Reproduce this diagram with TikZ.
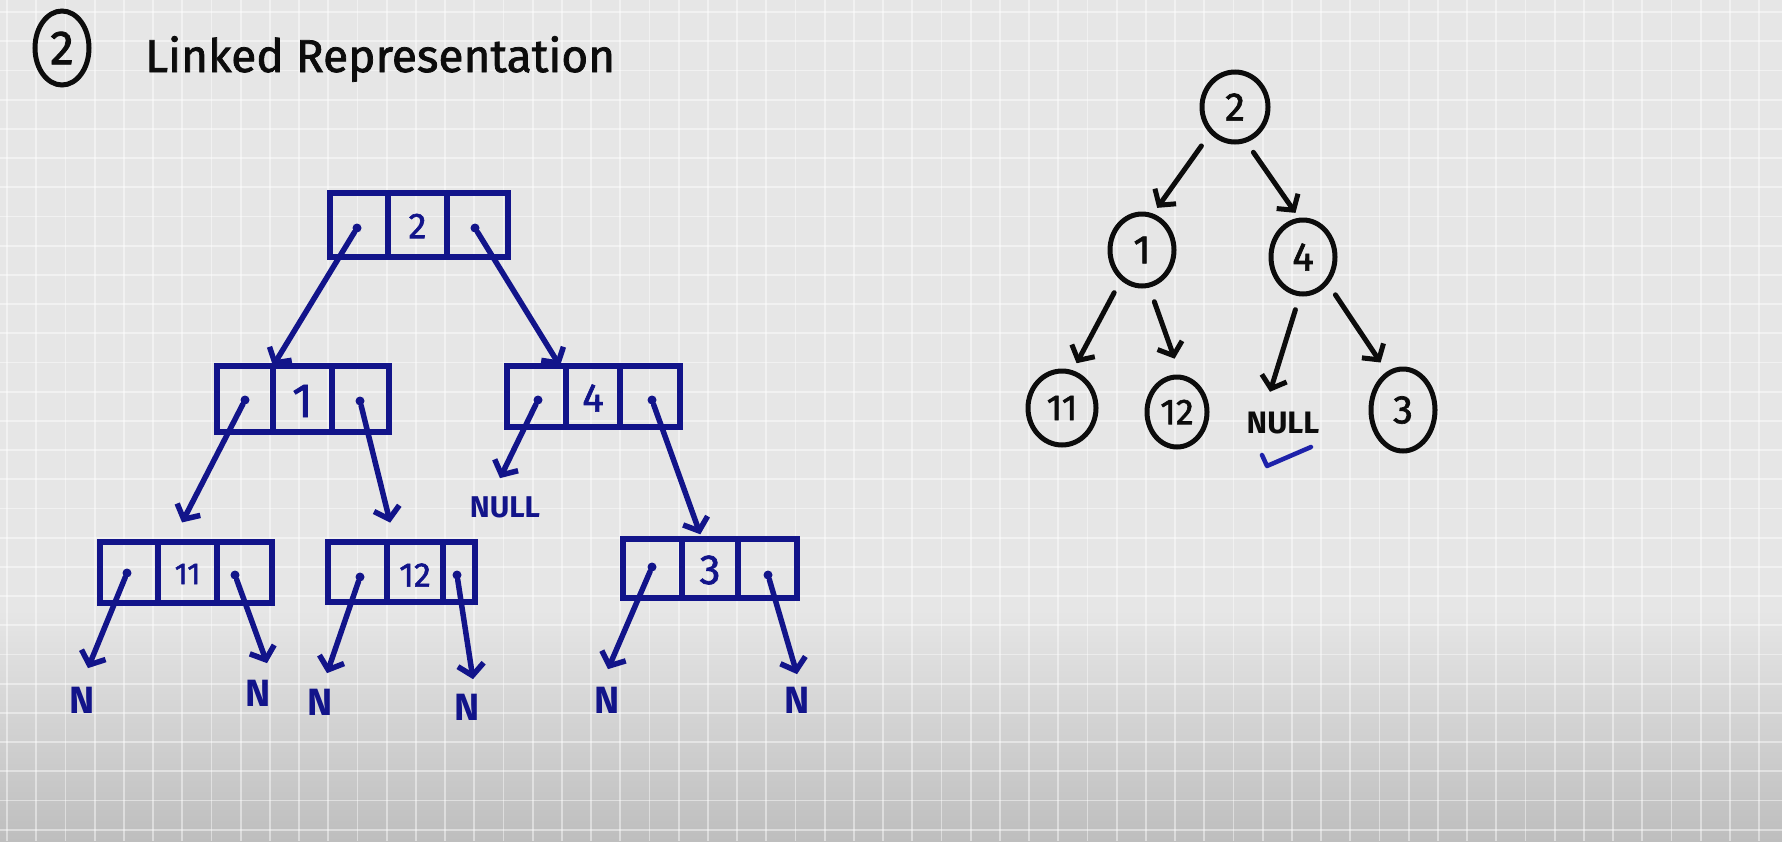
\documentclass[tikz,border=0pt]{standalone}
\usepackage{fontspec}
\setmainfont{Fira Sans}
\newfontfamily\hand{Fira Sans}[FakeBold=1.6]
\usetikzlibrary{arrows.meta,shapes.geometric,calc}
\definecolor{bgc}{RGB}{230,230,230}
\definecolor{bgbot}{RGB}{190,190,190}
\definecolor{bink}{RGB}{18,20,138}
\definecolor{kink}{RGB}{12,12,12}
\definecolor{chk}{RGB}{30,34,170}
\tikzset{
 llbox/.style={draw=bink, line width=5.5pt, rectangle, inner sep=0pt, outer sep=0pt},
 divl/.style={draw=bink, line width=5.5pt, line cap=round},
 bdot/.style={circle, fill=bink, inner sep=0pt, minimum size=9pt},
 barr/.style={draw=bink, line width=5.5pt, line cap=round, line join=round, -{Straight Barb[length=11pt,width=26pt]}},
 bval/.style={text=bink, inner sep=0pt},
 nlbl/.style={text=bink, inner sep=0pt, font=\fontsize{38}{46}\selectfont\bfseries},
 cnode/.style={ellipse, draw=kink, line width=5pt, inner sep=0pt, text=kink, font=\fontsize{40}{46}\selectfont\hand},
 karr/.style={draw=kink, line width=5pt, line cap=round, line join=round, -{Straight Barb[length=11pt,width=26pt]}},
 gridl/.style={draw=white, line width=1.8pt, opacity=0.45},
}
\begin{document}
\begin{tikzpicture}[x=1pt,y=-1pt]
\useasboundingbox (0,0) rectangle (1782,841);
\fill[bgc] (0,0) rectangle (1782,841);
\shade[top color=bgc, bottom color=bgbot] (0,610) rectangle (1782,841);
\foreach \i in {0,...,60} \draw[gridl] ({7+29.2*\i},0) -- ({7+29.2*\i},841);
\foreach \j in {0,...,28} \draw[gridl] (0,{12+29.2*\j}) -- (1782,{12+29.2*\j});

% title
\node[cnode, minimum width=54pt, minimum height=74pt, font=\fontsize{48}{52}\selectfont\hand] (t2) at (62,48) {2};
\node[anchor=base west, text=kink, inner sep=0pt, font=\fontsize{46}{54}\selectfont\hand] (title) at (145,72) {Linked Representation};

% ---------- linked representation (left) ----------
% root 2
\node[llbox, minimum width=178pt, minimum height=64pt] (R) at (419,225) {};
\draw[divl] ($(R.north west)+(58,0)$) -- ($(R.south west)+(58,0)$);
\draw[divl] ($(R.north west)+(117,0)$) -- ($(R.south west)+(117,0)$);
\node[bval, font=\fontsize{36}{40}\selectfont\hand] (Rv) at (417.5,226) {2};
\node[bdot] (Rl) at (357,228) {};
\node[bdot] (Rr) at (475,228) {};

% node 1
\node[llbox, minimum width=172pt, minimum height=66pt] (N1) at (303,399) {};
\draw[divl] ($(N1.north west)+(56,0)$) -- ($(N1.south west)+(56,0)$);
\draw[divl] ($(N1.north west)+(115,0)$) -- ($(N1.south west)+(115,0)$);
\node[bval, font=\fontsize{48}{52}\selectfont\hand] (N1v) at (302.5,401) {1};
\node[bdot] (N1l) at (245,400) {};
\node[bdot] (N1r) at (360,401) {};

% node 4
\node[llbox, minimum width=173pt, minimum height=61pt] (N4) at (593.5,396.5) {};
\draw[divl] ($(N4.north west)+(59,0)$) -- ($(N4.south west)+(59,0)$);
\draw[divl] ($(N4.north west)+(113,0)$) -- ($(N4.south west)+(113,0)$);
\node[bval, font=\fontsize{40}{44}\selectfont\hand] (N4v) at (593,398) {4};
\node[bdot] (N4l) at (538,400) {};
\node[bdot] (N4r) at (652,400) {};

% node 11
\node[llbox, minimum width=172pt, minimum height=61pt] (N11) at (186,572.5) {};
\draw[divl] ($(N11.north west)+(58,0)$) -- ($(N11.south west)+(58,0)$);
\draw[divl] ($(N11.north west)+(117,0)$) -- ($(N11.south west)+(117,0)$);
\node[bval, font=\fontsize{30}{34}\selectfont\hand] (N11v) at (187.5,574) {11};
\node[bdot] (N11l) at (127,573) {};
\node[bdot] (N11r) at (235,575) {};

% node 12
\node[llbox, minimum width=147pt, minimum height=60pt] (N12) at (401.5,572) {};
\draw[divl] ($(N12.north west)+(59,0)$) -- ($(N12.south west)+(59,0)$);
\draw[divl] ($(N12.north west)+(115,0)$) -- ($(N12.south west)+(115,0)$);
\node[bval, font=\fontsize{34}{38}\selectfont\hand] (N12v) at (415,575) {12};
\node[bdot] (N12l) at (360,577) {};
\node[bdot] (N12r) at (457,575) {};

% node 3
\node[llbox, minimum width=174pt, minimum height=59pt] (N3) at (710,568.5) {};
\draw[divl] ($(N3.north west)+(59,0)$) -- ($(N3.south west)+(59,0)$);
\draw[divl] ($(N3.north west)+(115,0)$) -- ($(N3.south west)+(115,0)$);
\node[bval, font=\fontsize{42}{46}\selectfont\hand] (N3v) at (710,570) {3};
\node[bdot] (N3l) at (652,567) {};
\node[bdot] (N3r) at (768,575) {};

% labels
\node[nlbl, font=\fontsize{30}{36}\selectfont\bfseries] (nullL) at (505,507) {NULL};
\node[nlbl] (n1) at (82,700) {N};
\node[nlbl] (n2) at (258,693) {N};
\node[nlbl] (n3) at (320,702) {N};
\node[nlbl] (n4) at (467,707) {N};
\node[nlbl] (n5) at (607,700) {N};
\node[nlbl] (n6) at (797,700) {N};

% arrows
\draw[barr] (Rl) -- ($(N1.north west)+(56,0)$);
\draw[barr] (Rr) -- ($(N4.north west)+(53,0)$);
\draw[barr, shorten >=22pt] (N1l) -- ($(N11.north west)+(72,0)$);
\draw[barr, shorten >=20pt] (N1r) -- ($(N12.north west)+(67,0)$);
\draw[barr] (N4l) -- ($(nullL.north)+(-5,-18)$);
\draw[barr, shorten >=5pt] (N4r) -- ($(N3.north west)+(79,0)$);
\draw[barr] (N11l) -- ($(n1.north)+(6,-18.5)$);
\draw[barr] (N11r) -- ($(n2.north)+(9,-16.5)$);
\draw[barr] (N12l) -- ($(n3.north)+(7,-15.5)$);
\draw[barr] (N12r) -- ($(n4.north)+(6,-14.5)$);
\draw[barr] (N3l) -- ($(n5.north)+(1,-17.5)$);
\draw[barr] (N3r) -- ($(n6.north)+(0,-12.5)$);

% ---------- tree (right) ----------
\node[cnode, minimum width=66pt, minimum height=70pt] (c2) at (1235,107) {2};
\node[cnode, minimum width=64pt, minimum height=72pt] (c1) at (1142,250) {1};
\node[cnode, minimum width=64pt, minimum height=74pt] (c4) at (1303,257) {4};
\node[cnode, minimum width=68pt, minimum height=74pt, font=\fontsize{36}{40}\selectfont\hand] (c11) at (1062,408) {11};
\node[cnode, minimum width=60pt, minimum height=70pt, font=\fontsize{36}{40}\selectfont\hand] (c12) at (1177,412) {12};
\node[cnode, minimum width=64pt, minimum height=82pt] (c3) at (1403,410) {3};
\node[text=kink, inner sep=0pt, font=\fontsize{31}{36}\selectfont\bfseries] (nullR) at (1283,423) {NULL};

\draw[karr, shorten <=15pt, shorten >=7pt] (c2.227) -- (c1.73);
\draw[karr, shorten <=12pt, shorten >=6pt] (c2.288) -- (c4.96);
\draw[karr, shorten <=14pt, shorten >=8pt] (c1.235) -- (c11.74);
\draw[karr, shorten <=15pt, shorten >=17pt] (c1.281) -- (c12.85);
\draw[karr, shorten <=14pt] (c4.265) -- ($(nullR.north)+(-13,-20)$);
\draw[karr, shorten <=13pt, shorten >=11pt] (c4.313) -- (c3.113);

\draw[draw=chk, line width=4.5pt, line cap=round, line join=round] (1262,455) -- (1267,466) -- (1311,447);
\end{tikzpicture}
\end{document}
